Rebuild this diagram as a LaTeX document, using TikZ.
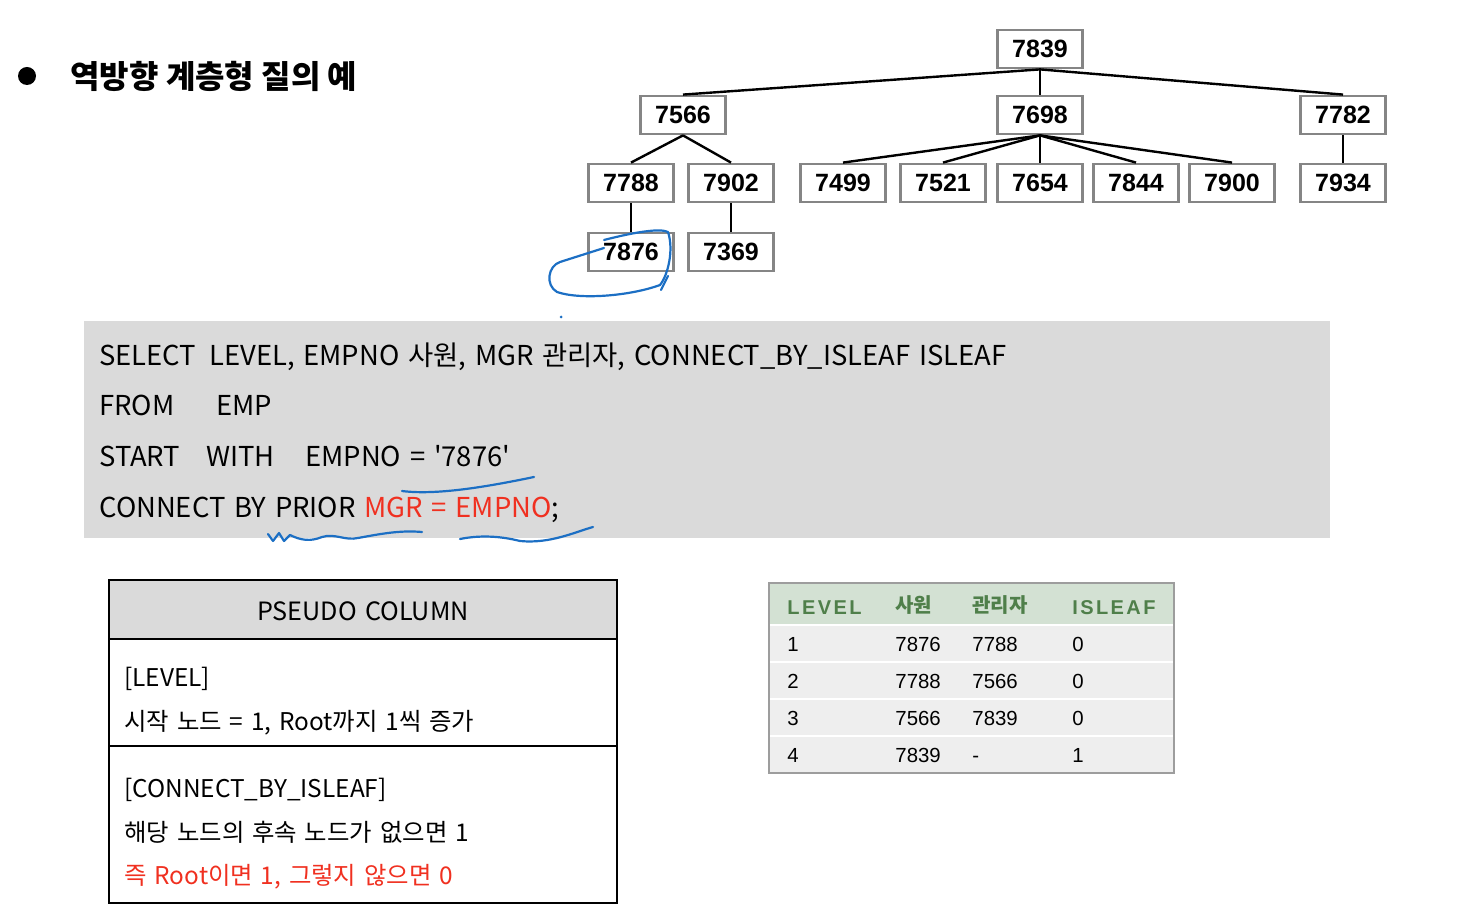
\documentclass[tikz,border=0pt]{standalone}
\usepackage{fontspec}
\setmainfont{Liberation Sans}
\newfontfamily\krfont{Noto Sans CJK KR}
\newcommand\widesp{\spaceskip 0.32em plus 0.1em minus 0.05em\relax}
\definecolor{boxgray}{HTML}{858585}
\definecolor{sqlgray}{HTML}{DADADA}
\definecolor{ink}{HTML}{1C6FC4}
\definecolor{hdrgreen}{HTML}{D3E1D3}
\definecolor{hdrtext}{HTML}{4F7F4A}
\definecolor{rowgray}{HTML}{EEEEEE}
\definecolor{keyred}{HTML}{F03020}
\tikzset{
  emp/.style={draw=boxgray,line width=1.4pt,fill=white,minimum width=42.5pt,minimum height=19pt,inner sep=0pt,font=\fontsize{12.5}{14}\selectfont\bfseries},
  edge/.style={line width=1.2pt},
  sql/.style={anchor=base west,inner sep=0pt,font=\krfont\fontsize{13.7}{16}\selectfont\widesp},
  pcol/.style={anchor=base west,inner sep=0pt,font=\krfont\fontsize{12.2}{15}\selectfont\widesp},
  cell/.style={anchor=base west,inner sep=0pt,font=\fontsize{10.2}{12}\selectfont},
  hcell/.style={anchor=base west,inner sep=0pt,text=hdrtext,font=\fontsize{10}{12}\selectfont\bfseries\addfontfeature{LetterSpace=12}},
  hkcell/.style={anchor=base west,inner sep=0pt,text=hdrtext,font=\krfont\fontsize{10}{12}\selectfont\bfseries},
  pen/.style={draw=ink,line width=1.1pt,line cap=round,line join=round}
}
\begin{document}
\begin{tikzpicture}[x=0.5pt,y=-0.5pt]
  \useasboundingbox (0,0) rectangle (1475,913);
  % title
  \fill (27,76) circle (9);
  \node[anchor=base west,inner sep=0pt,font=\krfont\fontsize{16}{19}\selectfont\bfseries] (title) at (70,89) {역방향 계층형 질의 예};
  % tree
  \node[emp] (n7839) at (1040,49) {7839};
  \node[emp] (n7566) at (683,115) {7566};
  \node[emp] (n7698) at (1040,115) {7698};
  \node[emp] (n7782) at (1343,115) {7782};
  \node[emp] (n7788) at (631,183) {7788};
  \node[emp] (n7902) at (731,183) {7902};
  \node[emp] (n7499) at (843,183) {7499};
  \node[emp] (n7521) at (943,183) {7521};
  \node[emp] (n7654) at (1040,183) {7654};
  \node[emp] (n7844) at (1136,183) {7844};
  \node[emp] (n7900) at (1232,183) {7900};
  \node[emp] (n7934) at (1343,183) {7934};
  \node[emp] (n7876) at (631,252) {7876};
  \node[emp] (n7369) at (731,252) {7369};
  \foreach \c in {7566,7698,7782}
    \draw[edge] (n7839.south) -- (n\c.north);
  \foreach \c in {7788,7902}
    \draw[edge] (n7566.south) -- (n\c.north);
  \foreach \c in {7499,7521,7654,7844,7900}
    \draw[edge] (n7698.south) -- (n\c.north);
  \draw[edge] (n7782.south) -- (n7934.north);
  \draw[line width=.8pt] (n7788.south) -- (n7876.north);
  \draw[line width=.8pt] (n7902.south) -- (n7369.north);
  % query
  \fill[sqlgray] (84,321) rectangle (1330,538);
  \node[sql] (s1) at (99,366) {SELECT};
  \node[sql] (s1b) at (209,366) {LEVEL, EMPNO 사원, MGR 관리자, CONNECT\_BY\_ISLEAF ISLEAF};
  \node[sql] (s2) at (99,416) {FROM};
  \node[sql] (s2b) at (216,416) {EMP};
  \node[sql] (s3) at (99,467) {START};
  \node[sql] (s3b) at (206,467) {WITH};
  \node[sql] (s3c) at (305,467) {EMPNO = '7876'};
  \node[sql] (s4) at (99,517) {CONNECT BY PRIOR \textcolor{keyred}{MGR = EMPNO};};
  % pseudo column box
  \fill[sqlgray] (109,580) rectangle (617,639);
  \draw[line width=1.1pt] (109,580) rectangle (617,903);
  \draw[line width=1.1pt] (109,639) -- (617,639);
  \draw[line width=1.1pt] (109,746) -- (617,746);
  \node[inner sep=0pt,font=\krfont\fontsize{12.6}{15}\selectfont\widesp] (phead) at (363,611) {PSEUDO COLUMN};
  \node[pcol] (p1) at (124,686) {[LEVEL]};
  \node[pcol] (p2) at (124,730) {시작 노드 = 1, Root까지 1씩 증가};
  \node[pcol] (p3) at (124,797) {[CONNECT\_BY\_ISLEAF]};
  \node[pcol] (p4) at (124,841) {해당 노드의 후속 노드가 없으면 1};
  \node[pcol,text=keyred] (p5) at (124,884) {즉 Root이면 1, 그렇지 않으면 0};
  % result table
  \fill[hdrgreen] (769,583) rectangle (1174,625);
  \fill[rowgray] (769,625) rectangle (1174,773);
  \foreach \y in {625,662,699,736}
    \draw[white,line width=1.2pt] (769,\y) -- (1174,\y);
  \draw[boxgray!80,line width=1.1pt] (769,583) rectangle (1174,773);
  \node[hcell] (hlev) at (787,614) {LEVEL};
  \node[hkcell] (hemp) at (895,612) {사원};
  \node[hkcell] (hmgr) at (972,612) {관리자};
  \node[hcell] (hleaf) at (1072,614) {ISLEAF};
  \foreach \r/\l/\e/\m/\f in {1/1/7876/7788/0,2/2/7788/7566/0,3/3/7566/7839/0,4/4/7839/-/1} {
    \pgfmathsetmacro\yb{614+\r*37}
    \node[cell] at (787,\yb) {\l};
    \node[cell] at (895,\yb) {\e};
    \node[cell] at (972,\yb) {\m};
    \node[cell] at (1072,\yb) {\f};
  }
  % pen marks
  \draw[pen] (604,240) .. controls (635,232) and (660,228) .. (668,232)
    .. controls (674,250) and (668,275) .. (660,285)
    .. controls (630,296) and (580,300) .. (557,292)
    .. controls (545,285) and (548,266) .. (560,262) -- (604,248);
  \draw[pen] (661,290) .. controls (664,284) and (666,280) .. (668,276);
  \fill[ink] (561,317) circle (1.5);
  \draw[pen] (402,491) .. controls (440,496) and (500,484) .. (534,477);
  \draw[pen] (268,534) -- (273,541) -- (279,533) -- (284,541) -- (290,535)
    .. controls (300,540) and (310,542) .. (322,537)
    .. controls (335,533) and (345,541) .. (358,538)
    .. controls (380,534) and (400,530) .. (422,532);
  \draw[pen] (460,539) .. controls (480,535) and (500,536) .. (520,541)
    .. controls (550,544) and (575,532) .. (593,527);
\end{tikzpicture}
\end{document}
